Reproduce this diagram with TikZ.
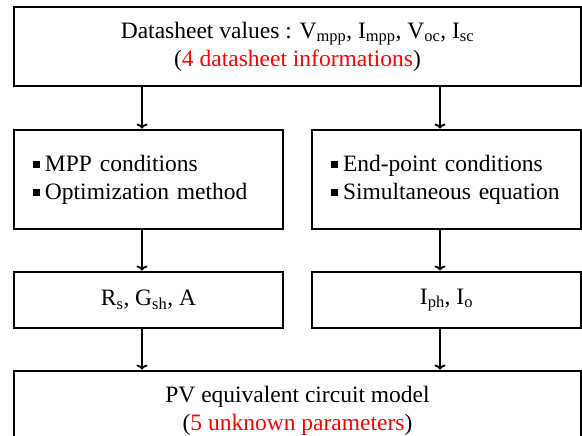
\documentclass[tikz,border=0pt]{standalone}
\usepackage{fontspec}
\setmainfont{Liberation Serif}
\usetikzlibrary{arrows.meta}
\newcommand\sqbul{\rule[3.5pt]{6.5pt}{6.5pt}\hspace{5.5pt}}
\begin{document}
\begin{tikzpicture}[x=1pt,y=-1pt,
  box/.style={draw=black, line width=2.8pt, rectangle, inner sep=0pt,
    font=\fontsize{23.5}{28}\selectfont, align=center},
  listbox/.style={box, align=left, inner xsep=19pt, text width=231pt,
    minimum width=269pt, minimum height=99pt},
  conn/.style={line width=2.8pt, -{To[length=5pt,width=11pt,line width=1.8pt]}}
]
\useasboundingbox (0,0) rectangle (582,436);
\node[box, minimum width=567pt, minimum height=79pt] (top) at (297.5,46.5)
  {Datasheet values : V\textsubscript{mpp}, I\textsubscript{mpp}, V\textsubscript{oc}, I\textsubscript{sc}\\
   (\textcolor{red}{4 datasheet informations})};
\node[listbox] (ml) at (148.5,179.5) {\sqbul MPP conditions\\ \sqbul Optimization method};
\node[listbox] (mr) at (446.5,179.5) {\sqbul End-point conditions\\ \sqbul Simultaneous equation};
\node[box, minimum width=269pt, minimum height=56pt] (pl) at (148.5,300)
  {R\textsubscript{s}, G\textsubscript{sh}, A};
\node[box, minimum width=269pt, minimum height=56pt] (pr) at (446.5,300)
  {I\textsubscript{ph}, I\textsubscript{o}};
\node[box, minimum width=567pt, minimum height=79pt] (bot) at (297.5,410.5)
  {PV equivalent circuit model\\ (\textcolor{red}{5 unknown parameters})};
\coordinate (cl) at (142,0);
\coordinate (cr) at (440,0);
\draw[conn] (top.south -| cl) -- (ml.north -| cl);
\draw[conn] (top.south -| cr) -- (mr.north -| cr);
\draw[conn] (ml.south -| cl) -- (pl.north -| cl);
\draw[conn] (mr.south -| cr) -- (pr.north -| cr);
\draw[conn] (pl.south -| cl) -- (bot.north -| cl);
\draw[conn] (pr.south -| cr) -- (bot.north -| cr);
\end{tikzpicture}
\end{document}
